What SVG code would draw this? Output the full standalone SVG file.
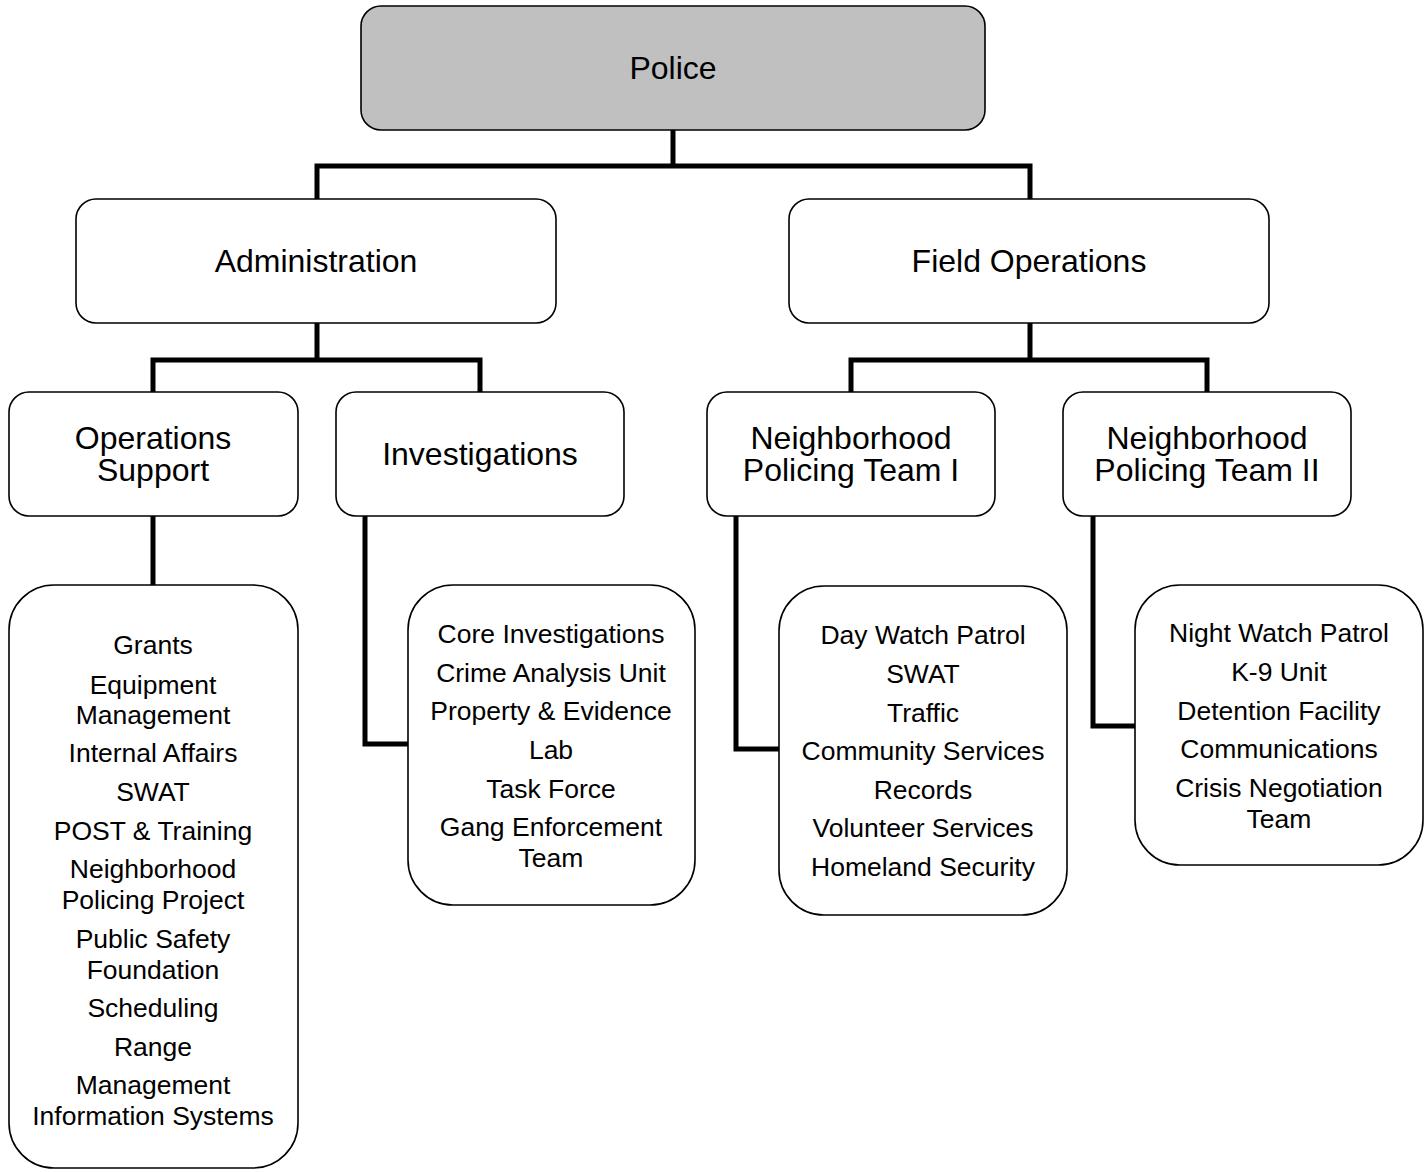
<svg xmlns="http://www.w3.org/2000/svg" width="1427" height="1172" viewBox="0 0 1427 1172">
  <style>
    .box { fill: #ffffff; stroke: #000000; stroke-width: 1.6; }
    .root { fill: #c0c0c0; }
    .link { fill: none; stroke: #000000; stroke-width: 5; stroke-linejoin: miter; stroke-linecap: butt; }
    text { font-family: "Liberation Sans", Arial, sans-serif; fill: #000000; text-anchor: middle; }
    .head { font-size: 32px; }
    .item { font-size: 26.5px; }
  </style>
  <rect width="1427" height="1172" fill="#ffffff"/>

  <!-- connectors -->
  <g id="connectors">
    <path class="link" d="M673,130 V166 M317,199 V166 H1030 V199"/>
    <path class="link" d="M317,323 V360 M153,392 V360 H480 V392"/>
    <path class="link" d="M1030,323 V360 M851,392 V360 H1207 V392"/>
    <path class="link" d="M153,516 V585"/>
    <path class="link" d="M365,516 V744 H408"/>
    <path class="link" d="M736,516 V749 H779"/>
    <path class="link" d="M1093,516 V726 H1135"/>
  </g>

  <g id="police">
    <rect class="box root" x="361" y="6" width="624" height="124" rx="20"/>
    <text class="head" x="673" y="78.5">Police</text>
  </g>

  <g id="administration">
    <rect class="box" x="76" y="199" width="480" height="124" rx="20"/>
    <text class="head" x="316" y="271.5">Administration</text>
  </g>

  <g id="field-operations">
    <rect class="box" x="789" y="199" width="480" height="124" rx="20"/>
    <text class="head" x="1029" y="271.5">Field Operations</text>
  </g>

  <g id="operations-support">
    <rect class="box" x="9" y="392" width="289" height="124" rx="20"/>
    <text class="head" x="153" y="448.5">Operations</text>
    <text class="head" x="153" y="480.5">Support</text>
  </g>

  <g id="investigations">
    <rect class="box" x="336" y="392" width="288" height="124" rx="20"/>
    <text class="head" x="480" y="464.5">Investigations</text>
  </g>

  <g id="npt-1">
    <rect class="box" x="707" y="392" width="288" height="124" rx="20"/>
    <text class="head" x="851" y="448.5">Neighborhood</text>
    <text class="head" x="851" y="480.5">Policing Team I</text>
  </g>

  <g id="npt-2">
    <rect class="box" x="1063" y="392" width="288" height="124" rx="20"/>
    <text class="head" x="1207" y="448.5">Neighborhood</text>
    <text class="head" x="1207" y="480.5">Policing Team II</text>
  </g>

  <g id="operations-support-units">
    <rect class="box" x="9" y="585" width="289" height="583" rx="45"/>
    <text class="item" x="153" y="654">Grants</text>
    <text class="item" x="153" y="694">Equipment</text>
    <text class="item" x="153" y="724">Management</text>
    <text class="item" x="153" y="762">Internal Affairs</text>
    <text class="item" x="153" y="801">SWAT</text>
    <text class="item" x="153" y="840">POST &amp; Training</text>
    <text class="item" x="153" y="878">Neighborhood</text>
    <text class="item" x="153" y="909">Policing Project</text>
    <text class="item" x="153" y="948">Public Safety</text>
    <text class="item" x="153" y="979">Foundation</text>
    <text class="item" x="153" y="1017">Scheduling</text>
    <text class="item" x="153" y="1056">Range</text>
    <text class="item" x="153" y="1094">Management</text>
    <text class="item" x="153" y="1125">Information Systems</text>
  </g>

  <g id="investigations-units">
    <rect class="box" x="408" y="585" width="287" height="320" rx="45"/>
    <text class="item" x="551" y="643">Core Investigations</text>
    <text class="item" x="551" y="682">Crime Analysis Unit</text>
    <text class="item" x="551" y="720">Property &amp; Evidence</text>
    <text class="item" x="551" y="759">Lab</text>
    <text class="item" x="551" y="798">Task Force</text>
    <text class="item" x="551" y="836">Gang Enforcement</text>
    <text class="item" x="551" y="867">Team</text>
  </g>

  <g id="npt-1-units">
    <rect class="box" x="779" y="586" width="288" height="329" rx="45"/>
    <text class="item" x="923" y="644">Day Watch Patrol</text>
    <text class="item" x="923" y="683">SWAT</text>
    <text class="item" x="923" y="722">Traffic</text>
    <text class="item" x="923" y="760">Community Services</text>
    <text class="item" x="923" y="799">Records</text>
    <text class="item" x="923" y="837">Volunteer Services</text>
    <text class="item" x="923" y="876">Homeland Security</text>
  </g>

  <g id="npt-2-units">
    <rect class="box" x="1135" y="585" width="288" height="280" rx="45"/>
    <text class="item" x="1279" y="642">Night Watch Patrol</text>
    <text class="item" x="1279" y="681">K-9 Unit</text>
    <text class="item" x="1279" y="720">Detention Facility</text>
    <text class="item" x="1279" y="758">Communications</text>
    <text class="item" x="1279" y="797">Crisis Negotiation</text>
    <text class="item" x="1279" y="828">Team</text>
  </g>
</svg>
